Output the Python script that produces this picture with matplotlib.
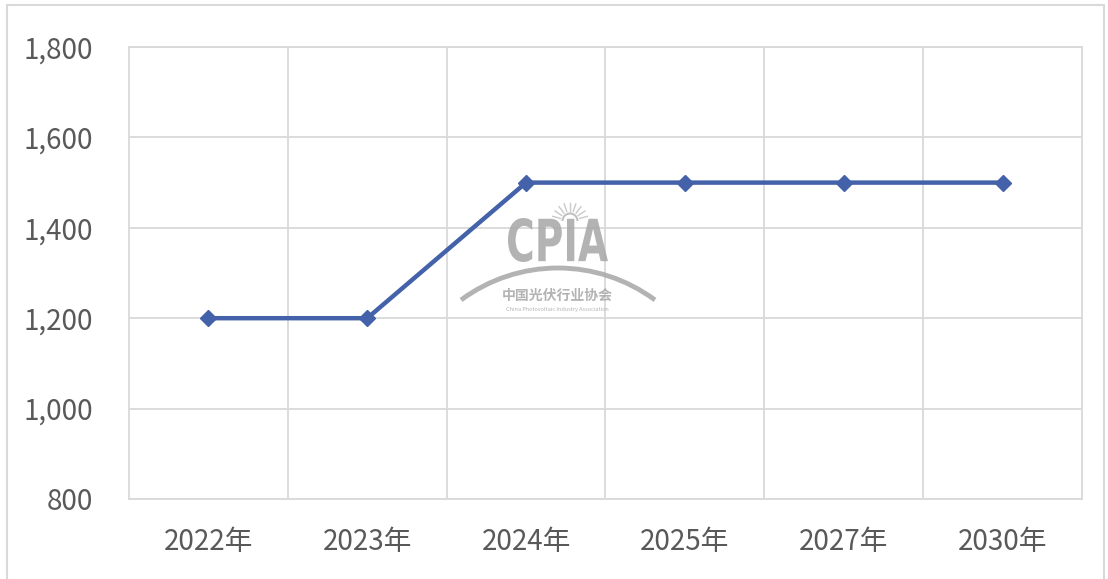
import numpy as np
import matplotlib.pyplot as plt
from matplotlib.patches import Rectangle, Arc, PathPatch
from matplotlib.textpath import TextPath
from matplotlib.font_manager import FontProperties
from matplotlib.transforms import Affine2D

plt.rcParams['font.family'] = ['Noto Sans CJK SC', 'DejaVu Sans']

years = ['2022年', '2023年', '2024年', '2025年', '2027年', '2030年']
values = [1200, 1200, 1500, 1500, 1500, 1500]
y_ticks = [800, 1000, 1200, 1400, 1600, 1800]

W, H = 1108, 579
fig = plt.figure(figsize=(W / 100, H / 100), dpi=100)
ax = fig.add_axes([129 / W, 1 - 499 / H, (1082 - 129) / W, (499 - 47) / H])

# outer chart border
fig.patches.append(Rectangle((7 / W, -0.01), (1104 - 7) / W, 1 - 5 / H + 0.01,
                             transform=fig.transFigure, fill=False,
                             edgecolor='#d9d9d9', linewidth=1.5))

x = list(range(len(years)))
ax.plot(x, values, color='#4462aa', linewidth=3.2, marker='D',
        markersize=8.5, zorder=5)

ax.set_xlim(-0.5, len(years) - 0.5)
ax.set_ylim(800, 1800)
ax.set_yticks(y_ticks)
ax.set_yticklabels([f'{v:,}' for v in y_ticks])
ax.set_xticks(x)
ax.set_xticklabels(years)
ax.set_xticks([i + 0.5 for i in range(len(years) - 1)], minor=True)

ax.grid(axis='y', color='#d9d9d9', linewidth=1.3)
ax.grid(axis='x', which='minor', color='#d9d9d9', linewidth=1.3)
ax.set_axisbelow(True)
for s in ax.spines.values():
    s.set_color('#d9d9d9')
    s.set_linewidth(1.3)
ax.tick_params(which='both', length=0, labelsize=20, labelcolor='#595959')
ax.tick_params(axis='y', pad=26)
ax.tick_params(axis='x', pad=20)

# watermark (pixel coords, y measured from top)
wm = '#a6a6a6'
px = Affine2D().scale(1 / W, 1 / H) + fig.transFigure


def top(y):
    return H - y


tp = TextPath((0, 0), 'CPIA', size=10, prop=FontProperties(family='DejaVu Sans', weight='bold'))
bb = tp.get_extents()
sx = 100 / bb.width
sy = 44 / bb.height
tr = Affine2D().translate(-bb.x0, -bb.y0).scale(sx, sy).translate(508, top(262))
fig.patches.append(PathPatch(tr.transform_path(tp), transform=px, facecolor=wm,
                             edgecolor='none', alpha=0.85, zorder=10))

# arc under the letters
R = 163
fig.patches.append(Arc((558, top(268) - R), 2 * R, 2 * R, theta1=53.5, theta2=126.5,
                       transform=px, color=wm, linewidth=3.5, alpha=0.85))

# little sun above
cx, cy = 570, top(221)
fig.patches.append(Arc((cx, cy), 15, 15, theta1=0, theta2=180, transform=px,
                       color=wm, linewidth=1.5, alpha=0.7))
for a in np.linspace(15, 165, 9):
    t = np.radians(a)
    fig.add_artist(plt.Line2D([cx + 10 * np.cos(t), cx + 18 * np.cos(t)],
                              [cy + 10 * np.sin(t), cy + 18 * np.sin(t)],
                              transform=px, color=wm, linewidth=1, alpha=0.6))

fig.text(557 / W, 1 - 296 / H, '中国光伏行业协会', ha='center', va='center',
         fontsize=10, fontweight='bold', color=wm, alpha=0.85, zorder=10)
fig.text(557 / W, 1 - 309 / H, 'China Photovoltaic Industry Association',
         ha='center', va='center', fontsize=4, color=wm, alpha=0.85, zorder=10)

fig.savefig('out.png', dpi=100)
